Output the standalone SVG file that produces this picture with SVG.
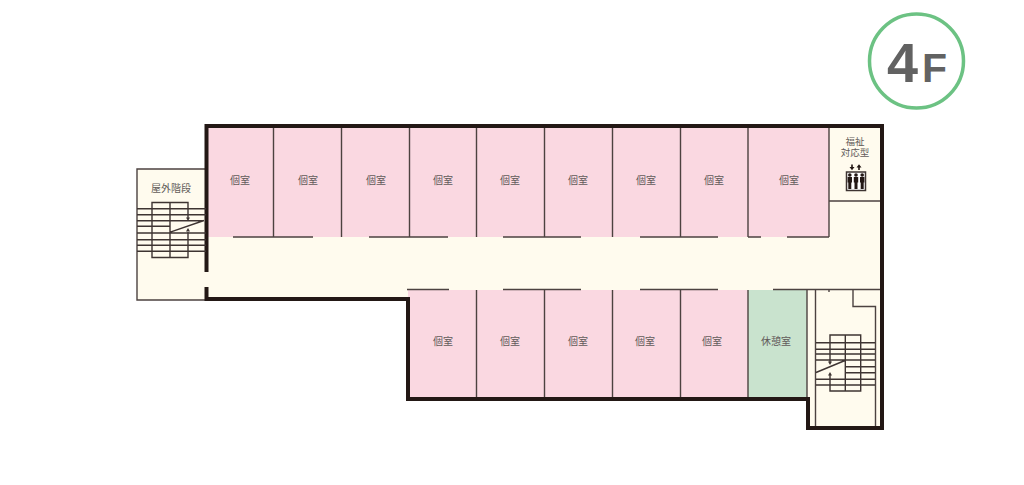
<svg xmlns="http://www.w3.org/2000/svg" width="1024" height="485" viewBox="0 0 1024 485">
<style>
.w{fill:none;stroke:#231815;stroke-width:4;stroke-linecap:square}
.t{fill:none;stroke:#4c4240;stroke-width:1.4}
.s{fill:none;stroke:#3e3432;stroke-width:1.4}
.a{fill:#3e3432}
.l{font-family:"Noto Sans CJK JP","Noto Sans",sans-serif;font-size:10px;fill:#625b5a;text-anchor:middle}
</style>
<g id="floor">
<rect x="137" y="169" width="70" height="131" fill="#fffbee"/>
<rect x="207" y="127" width="675" height="172" fill="#fffbee"/>
<rect x="408" y="289" width="474" height="110" fill="#fffbee"/>
<rect x="808" y="289" width="74" height="139" fill="#fffbee"/>
<rect x="207" y="127" width="622" height="110" fill="#fad8e1"/>
<rect x="408" y="290" width="340" height="108" fill="#fad8e1"/>
<rect x="748" y="290" width="59" height="108" fill="#c9e3ce"/>
</g>
<g id="connectors">
<path class="t" d="M207 169H137V300H207"/>
<path class="t" d="M273.500 128V237M341.500 128V237M409.500 128V237M476.500 128V237M544.500 128V237M612.500 128V237M680.500 128V237M748 128V237M829 128V237M829 201H881"/>
<path class="t" d="M233 237H313M369 237H448M503 237H581M640 237H718M748 237H761M787 237H829"/>
<path class="t" d="M407 289.500H449M503 289.500H581M640 289.500H718M773 289.500H881"/>
<path class="t" d="M476.500 290V398M544.500 290V398M612.500 290V398M680.500 290V398M748 290V398M807 290V398"/>
<path class="t" d="M815.500 290V427M853 290V306.500H875.500V427M829 289V292"/>
<path class="w" d="M206.500 270V126H882V428H808V399H408V299H206.500V289"/>
</g>
<g id="stair-west">
<path class="s" d="M188 218V202.500H152V257.500H188V232M170 202.500V257.500M137 208.700H206M137 214.700H206M137 220.700H204M137 226.300H170M137 233H206M137 239.700H206M137 245.300H206M137 251.300H206M169.500 232.300L204 220.500"/>
<path class="a" d="M186 217.500h4l-2 3.500ZM186 231.500h4l-2-3.500Z"/>
</g>
<g id="stair-east">
<path class="s" d="M830 362V335H860.700V391H830V374.500M845.300 335V391M816 342.700H875M816 349.300H875M816 354H875M816 360H875M845.300 366.700H875M845.300 372.700H875M816 379.300H875M816 385H875M816 372.500L845 360.500"/>
<path class="a" d="M828 361.500h4l-2 3.500ZM828 375.500h4l-2-3.500Z"/>
</g>
<g id="rooms" class="l">
<text x="240" y="184">個室</text><text x="308" y="184">個室</text><text x="376" y="184">個室</text><text x="443" y="184">個室</text><text x="510" y="184">個室</text><text x="578" y="184">個室</text><text x="646" y="184">個室</text><text x="714" y="184">個室</text><text x="789" y="184">個室</text>
<text x="443" y="345">個室</text><text x="510" y="345">個室</text><text x="578" y="345">個室</text><text x="645" y="345">個室</text><text x="712" y="345">個室</text><text x="776" y="345">休憩室</text>
<text x="171" y="192">屋外階段</text>
<text style="font-size:9.500px"><tspan x="855" y="144.500">福祉</tspan><tspan x="855" y="156">対応型</tspan></text>
</g>
<g id="elevator">
<rect x="846.500" y="172" width="19" height="18.500" fill="#fff" stroke="#3e3432" stroke-width="1.500"/>
<g fill="#231815">
<circle cx="849.800" cy="175" r="1.800"/><circle cx="856" cy="175" r="1.800"/><circle cx="862.200" cy="175" r="1.800"/>
<path d="M847.600 177h4.400v5.500h-.7v6.500h-3v-6.500h-.7ZM853.800 177h4.400v5.500h-.7v6.500h-3v-6.500h-.7ZM860 177h4.400v5.500h-.7v6.500h-3v-6.500h-.7Z"/>
<path d="M851.200 164.500h1.600v2.500h1.700l-2.500 3.200-2.500-3.200h1.700ZM858.200 170v-2.500h-1.700l2.500-3.200 2.500 3.200h-1.700v2.500Z"/>
</g>
</g>
<g id="badge">
<circle cx="916.500" cy="61" r="47" fill="#fff" stroke="#6cc283" stroke-width="3.500"/>
<text x="887" y="82" font-family="'Liberation Sans',sans-serif" font-size="55" font-weight="700" fill="#626262" textLength="31" lengthAdjust="spacingAndGlyphs">4</text>
<text x="922" y="82" font-family="'Liberation Sans',sans-serif" font-size="41" font-weight="700" fill="#626262">F</text>
</g>
</svg>
